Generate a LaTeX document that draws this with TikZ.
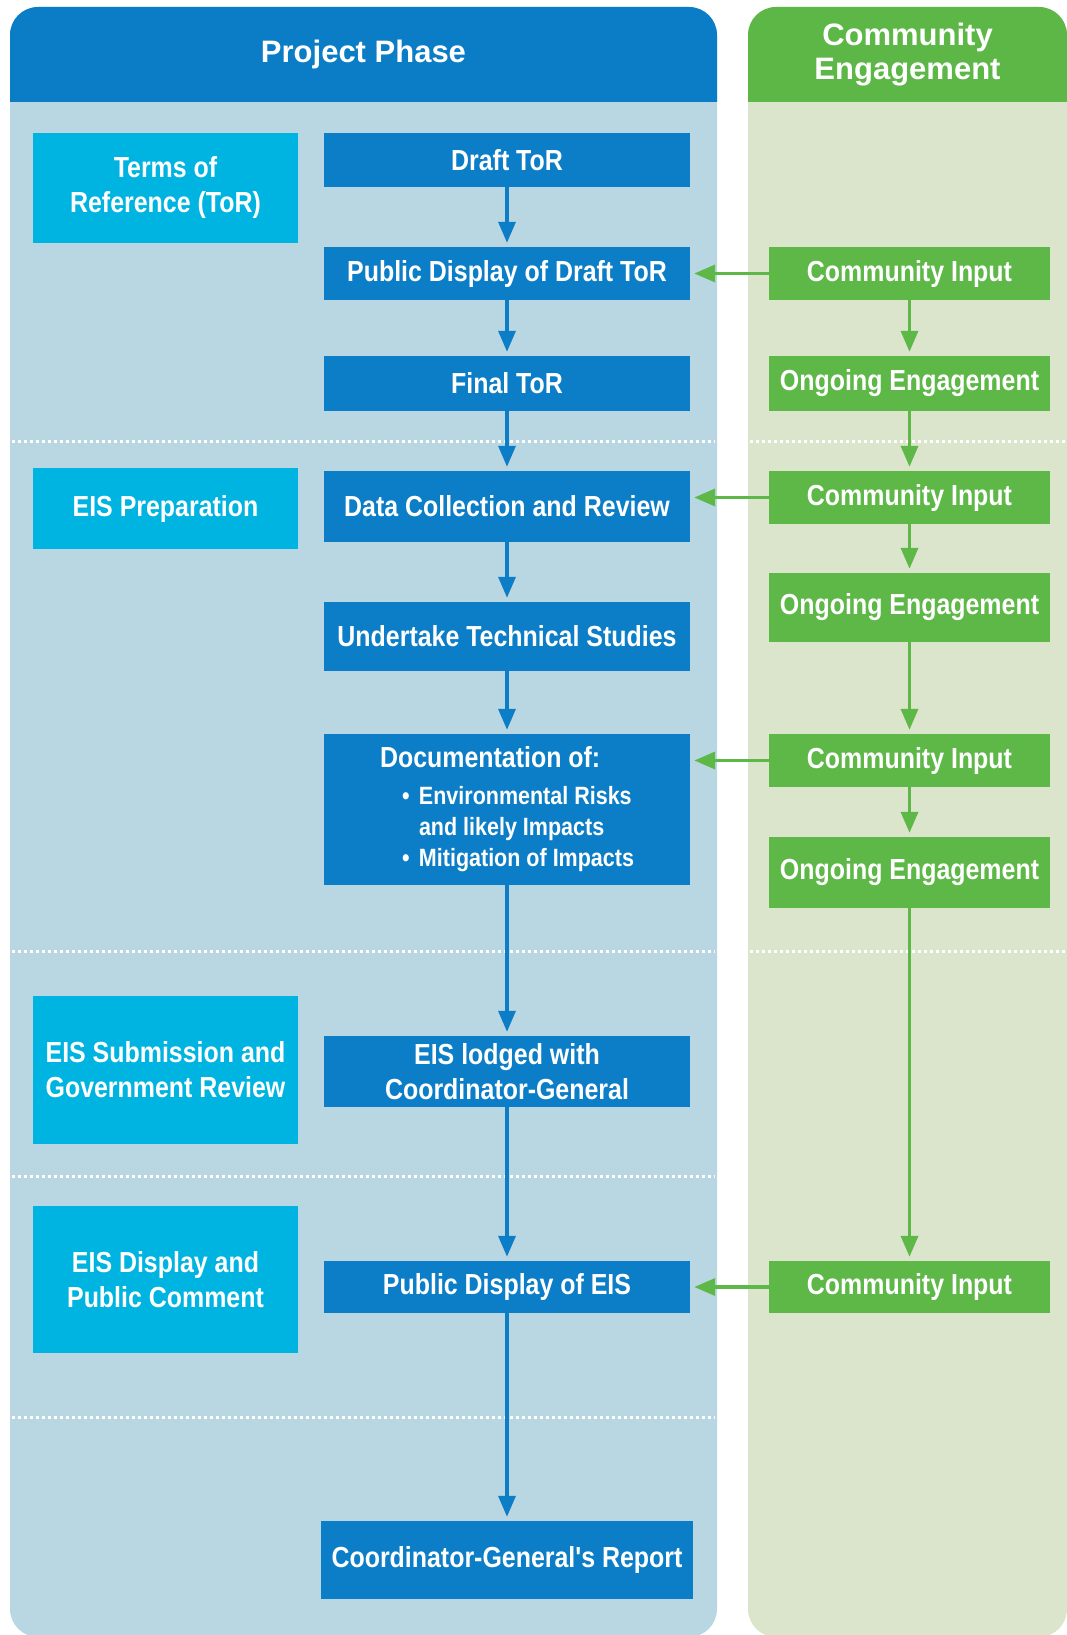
\documentclass[tikz,border=0pt]{standalone}
\usepackage{fontspec}
\setmainfont{Liberation Sans}
\newfontfamily\boxfont{Liberation Sans}[FakeStretch=0.86]
\usetikzlibrary{arrows.meta}

\definecolor{headblue}{RGB}{10,125,198}
\definecolor{boxblue}{RGB}{12,126,200}
\definecolor{panelblue}{RGB}{184,215,227}
\definecolor{phasecyan}{RGB}{0,180,226}
\definecolor{headgreen}{RGB}{92,183,71}
\definecolor{boxgreen}{RGB}{94,184,72}
\definecolor{panelgreen}{RGB}{218,229,203}

\tikzset{
  headtext/.style={text=white, align=center, font=\bfseries\fontsize{31}{34}\selectfont},
  phasebox/.style={fill=phasecyan, text=white, minimum width=265pt, inner sep=0pt, align=center, font=\boxfont\bfseries\fontsize{29}{35}\selectfont},
  flowbox/.style={fill=boxblue, text=white, minimum width=366pt, inner sep=0pt, align=center, font=\boxfont\bfseries\fontsize{29}{35}\selectfont},
  inputbox/.style={fill=boxgreen, text=white, minimum width=281pt, inner sep=0pt, align=center, font=\boxfont\bfseries\fontsize{29}{35}\selectfont},
  blueflow/.style={draw=boxblue, line width=3.5pt, shorten >=4pt, -{Triangle[length=21pt, width=17pt]}},
  greenflow/.style={draw=boxgreen, line width=3.5pt, shorten >=4pt, -{Triangle[length=21pt, width=17pt]}},
  sepline/.style={draw=white, line width=3pt, dash pattern=on 3pt off 3pt}
}

\begin{document}
\begin{tikzpicture}[x=1pt, y=-1pt]

\useasboundingbox (0,0) rectangle (1066,1635);

% panels
\fill[panelblue, rounded corners=28pt] (10,7) rectangle (717,1637);
\fill[headblue] (10,102) {[rounded corners=28pt] -- (10,7) -- (717,7)} -- (717,102) -- cycle;
\fill[panelgreen, rounded corners=28pt] (748,7) rectangle (1067,1637);
\fill[headgreen] (748,102) {[rounded corners=28pt] -- (748,7) -- (1067,7)} -- (1067,102) -- cycle;

\node[headtext] (projhead) at (363.5,54) {Project Phase};
\node[headtext] (commhead) at (907.5,55) {Community\\Engagement};

\draw[sepline] (12,441) -- (715,441);
\draw[sepline] (750,441) -- (1066,441);
\draw[sepline] (12,951) -- (715,951);
\draw[sepline] (750,951) -- (1066,951);
\draw[sepline] (12,1176) -- (715,1176);
\draw[sepline] (12,1417) -- (715,1417);

% phases
\node[phasebox, minimum height=110pt] (tor) at (165.5,188) {Terms of\\Reference (ToR)};
\node[phasebox, minimum height=81pt] (prep) at (165.5,508.5) {EIS Preparation};
\node[phasebox, minimum height=148pt] (submit) at (165.5,1070) {EIS Submission and\\Government Review};
\node[phasebox, minimum height=147pt] (display) at (165.5,1279.5) {EIS Display and\\Public Comment};

% project steps
\node[flowbox, minimum height=54pt] (draft) at (507,160) {Draft ToR};
\node[flowbox, minimum height=53pt] (pubtor) at (507,273.5) {Public Display of Draft ToR};
\node[flowbox, minimum height=55pt] (final) at (507,383.5) {Final ToR};
\node[flowbox, minimum height=71pt] (data) at (507,506.5) {Data Collection and Review};
\node[flowbox, minimum height=69pt] (studies) at (507,636.5) {Undertake Technical Studies};
\node[flowbox, minimum height=151pt, align=left, font=\boxfont\bfseries\fontsize{25}{31}\selectfont] (doc) at (507,809.5)
  {{\fontsize{29}{35}\selectfont Documentation of:}\\[6pt]
   \hspace*{22pt}\makebox[17pt][l]{\textbullet}Environmental Risks\\
   \hspace*{39pt}and likely Impacts\\
   \hspace*{22pt}\makebox[17pt][l]{\textbullet}Mitigation of Impacts};
\node[flowbox, minimum height=71pt] (lodged) at (507,1071.5) {EIS lodged with\\Coordinator-General};
\node[flowbox, minimum height=52pt] (pubeis) at (507,1287) {Public Display of EIS};
\node[flowbox, minimum width=372pt, minimum height=78pt] (report) at (507,1560) {Coordinator-General's Report};

% community steps
\node[inputbox, minimum height=53pt] (input1) at (909.5,273.5) {Community Input};
\node[inputbox, minimum height=55pt] (ongoing1) at (909.5,383.5) {Ongoing Engagement};
\node[inputbox, minimum height=53pt] (input2) at (909.5,497.5) {Community Input};
\node[inputbox, minimum height=69pt] (ongoing2) at (909.5,607.5) {Ongoing Engagement};
\node[inputbox, minimum height=53pt] (input3) at (909.5,760.5) {Community Input};
\node[inputbox, minimum height=71pt] (ongoing3) at (909.5,872.5) {Ongoing Engagement};
\node[inputbox, minimum height=52pt] (input4) at (909.5,1287) {Community Input};

\draw[blueflow] (draft) -- (pubtor);
\draw[blueflow] (pubtor) -- (final);
\draw[blueflow] (final) -- (data);
\draw[blueflow] (data) -- (studies);
\draw[blueflow] (studies) -- (doc);
\draw[blueflow] (doc) -- (lodged);
\draw[blueflow] (lodged) -- (pubeis);
\draw[blueflow] (pubeis) -- (report);

\draw[greenflow] (input1) -- (ongoing1);
\draw[greenflow] (ongoing1) -- (input2);
\draw[greenflow] (input2) -- (ongoing2);
\draw[greenflow] (ongoing2) -- (input3);
\draw[greenflow] (input3) -- (ongoing3);
\draw[greenflow] (ongoing3) -- (input4);

\draw[greenflow] (input1) -- (pubtor);
\draw[greenflow] (input2.west) -- (input2.west -| data.east);
\draw[greenflow] (input3.west) -- (input3.west -| doc.east);
\draw[greenflow] (input4) -- (pubeis);

\end{tikzpicture}
\end{document}
